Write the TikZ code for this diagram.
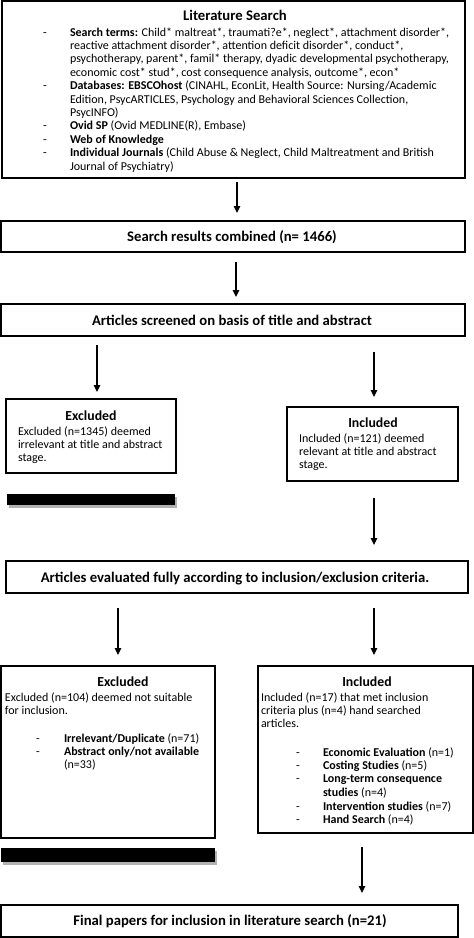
\documentclass[tikz,border=0pt]{standalone}
\usepackage{fontspec}
\setmainfont{Carlito}
\usetikzlibrary{arrows.meta}
\begin{document}
\begin{tikzpicture}[x=1pt,y=-1pt,
  box/.style={draw=black,line width=1.2pt,inner sep=0pt,outer sep=0pt,anchor=north west,fill=white},
  txt/.style={inner sep=0pt,outer sep=0pt,anchor=base west,font=\fontsize{12}{13.4}\selectfont},
  dsh/.style={inner sep=0pt,outer sep=0pt,anchor=base,font=\fontsize{12}{13.4}\selectfont},
  ttl/.style={inner sep=0pt,outer sep=0pt,anchor=base,font=\fontsize{14.7}{16}\selectfont\bfseries},
  head/.style={inner sep=0pt,outer sep=0pt,anchor=base,font=\fontsize{13.8}{16}\selectfont\bfseries},
  arr/.style={line width=1.3pt,-{Triangle[width=6.5pt,length=7pt]}},
  bar/.style={fill=black,draw=none},
  shadowbar/.style={fill=black!30,draw=none}
]
\useasboundingbox (0,0) rectangle (474,938);

% ---------- Literature search box
\node[box,minimum width=463pt,minimum height=177pt] (lit) at (2,1) {};
\node[ttl] (litT) at (235,20.5) {Literature Search};
\node[dsh] (d1) at (45,36) {-};
\node[txt] (l0) at (70,36) {\textbf{Search terms:} Child* maltreat*, traumati?e*, neglect*, attachment disorder*,};
\node[txt] (l1) at (70,49.4) {reactive attachment disorder*, attention deficit disorder*, conduct*,};
\node[txt] (l2) at (70,62.8) {psychotherapy, parent*, famil* therapy, dyadic developmental psychotherapy,};
\node[txt] (l3) at (70,76.2) {economic cost* stud*, cost consequence analysis, outcome*, econ*};
\node[dsh] (d2) at (45,89.6) {-};
\node[txt] (l4) at (70,89.6) {\textbf{Databases: EBSCOhost} (CINAHL, EconLit, Health Source: Nursing/Academic};
\node[txt] (l5) at (70,103) {Edition, PsycARTICLES, Psychology and Behavioral Sciences Collection,};
\node[txt] (l6) at (70,116.4) {PsycINFO)};
\node[dsh] (d3) at (45,129.8) {-};
\node[txt] (l7) at (70,129.8) {\textbf{Ovid SP} (Ovid MEDLINE(R), Embase)};
\node[dsh] (d4) at (45,143.2) {-};
\node[txt] (l8) at (70,143.2) {\textbf{Web of Knowledge}};
\node[dsh] (d5) at (45,156.6) {-};
\node[txt] (l9) at (70,156.6) {\textbf{Individual Journals} (Child Abuse \& Neglect, Child Maltreatment and British};
\node[txt] (l10) at (70,170) {Journal of Psychiatry)};

% ---------- arrows 1,2
\coordinate (a1s) at (237,182); \coordinate (a1e) at (237,213);
\draw[arr] (a1s) -- (a1e);

\node[box,minimum width=464pt,minimum height=31pt] (comb) at (1,221) {};
\node[ttl] (combT) at (232,241.5) {Search results combined (n= 1466)};

\coordinate (a2s) at (236,262); \coordinate (a2e) at (236,297);
\draw[arr] (a2s) -- (a2e);

\node[box,minimum width=464pt,minimum height=32pt] (scr) at (1,304) {};
\node[ttl] (scrT) at (232,325) {Articles screened on basis of title and abstract};

% ---------- split 1
\coordinate (a3s) at (97,345); \coordinate (a3e) at (97,392);
\draw[arr] (a3s) -- (a3e);
\coordinate (a4s) at (374,352); \coordinate (a4e) at (374,397);
\draw[arr] (a4s) -- (a4e);

\node[box,minimum width=170pt,minimum height=74pt] (ex1) at (6,399) {};
\node[head] (ex1T) at (91,420) {Excluded};
\node[txt] (ex1a) at (18,435) {Excluded (n=1345) deemed};
\node[txt] (ex1b) at (18,448.4) {irrelevant at title and abstract};
\node[txt] (ex1c) at (18,461.8) {stage.};

\fill[shadowbar] (9,497) rectangle (177,508);
\fill[bar] (7,494) rectangle (175,505);

\node[box,minimum width=171pt,minimum height=74pt] (in1) at (287,407) {};
\node[head] (in1T) at (373,427) {Included};
\node[txt] (in1a) at (299,442) {Included (n=121) deemed};
\node[txt] (in1b) at (299,455.4) {relevant at title and abstract};
\node[txt] (in1c) at (299,468.8) {stage.};

\coordinate (a5s) at (374,498); \coordinate (a5e) at (374,545);
\draw[arr] (a5s) -- (a5e);

% ---------- full evaluation
\node[box,minimum width=462pt,minimum height=32pt] (ev) at (6,561) {};
\node[ttl] (evT) at (235,582) {Articles evaluated fully according to inclusion/exclusion criteria.};

\coordinate (a6s) at (118,608); \coordinate (a6e) at (118,655);
\draw[arr] (a6s) -- (a6e);
\coordinate (a7s) at (374,608); \coordinate (a7e) at (374,655);
\draw[arr] (a7s) -- (a7e);

\node[box,minimum width=214pt,minimum height=172pt] (ex2) at (1,666) {};
\node[head] (ex2T) at (123,686) {Excluded};
\node[txt] (ex2a) at (5,701) {Excluded (n=104) deemed not suitable};
\node[txt] (ex2b) at (5,714.5) {for inclusion.};
\node[dsh] (ex2d1) at (38,742) {-};
\node[txt] (ex2c) at (64,742) {\textbf{Irrelevant/Duplicate} (n=71)};
\node[dsh] (ex2d2) at (38,755.5) {-};
\node[txt] (ex2d) at (64,755.5) {\textbf{Abstract only/not available}};
\node[txt] (ex2e) at (64,768.9) {(n=33)};

\fill[shadowbar] (3,851) rectangle (217,865);
\fill[bar] (1,848) rectangle (215,862);

\node[box,minimum width=215pt,minimum height=167pt] (in2) at (258,666) {};
\node[head] (in2T) at (367,686) {Included};
\node[txt] (in2a) at (261,701) {Included (n=17) that met inclusion};
\node[txt] (in2b) at (261,714.5) {criteria plus (n=4) hand searched};
\node[txt] (in2c) at (261,727.9) {articles.};
\node[dsh] (in2d1) at (298,756) {-};
\node[txt] (in2d) at (323,756) {\textbf{Economic Evaluation} (n=1)};
\node[dsh] (in2d2) at (298,769.4) {-};
\node[txt] (in2e) at (323,769.4) {\textbf{Costing Studies} (n=5)};
\node[dsh] (in2d3) at (298,782.8) {-};
\node[txt] (in2f) at (323,782.8) {\textbf{Long-term consequence}};
\node[txt] (in2g) at (323,796.2) {\textbf{studies} (n=4)};
\node[dsh] (in2d4) at (298,810.1) {-};
\node[txt] (in2h) at (323,810.1) {\textbf{Intervention studies} (n=7)};
\node[dsh] (in2d5) at (298,823.7) {-};
\node[txt] (in2i) at (323,823.7) {\textbf{Hand Search} (n=4)};

\coordinate (a8s) at (362,847); \coordinate (a8e) at (362,893);
\draw[arr] (a8s) -- (a8e);

\node[box,minimum width=457pt,minimum height=32pt] (fin) at (1,905) {};
\node[ttl] (finT) at (230,925.5) {Final papers for inclusion in literature search (n=21)};
\end{tikzpicture}
\end{document}
